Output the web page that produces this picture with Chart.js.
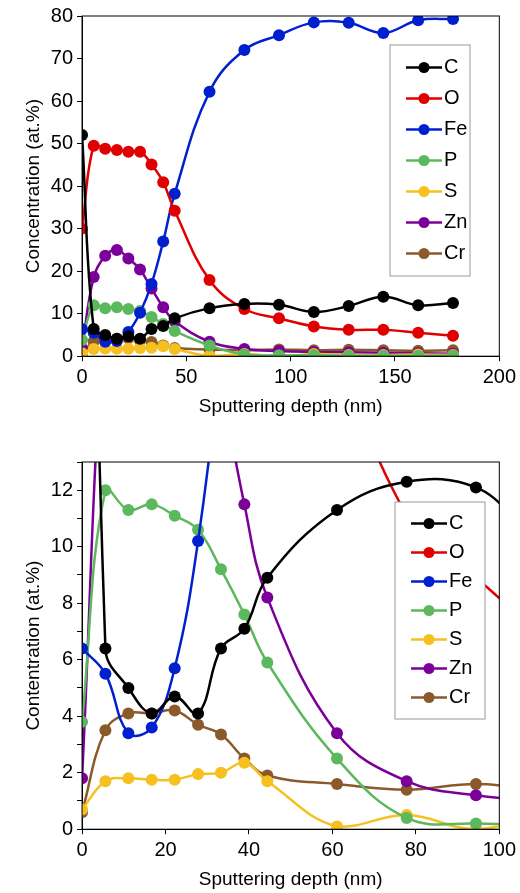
<!DOCTYPE html>
<html><head><meta charset="utf-8">
<script src="https://cdn.jsdelivr.net/npm/chart.js@4"></script>
<style>
body{margin:0;background:#fff;width:520px;height:893px;overflow:hidden}
.box{position:absolute;left:0;width:520px}
</style></head><body>
<div class="box" style="top:0;height:420px"><canvas id="top"></canvas></div>
<div class="box" style="top:440px;height:453px"><canvas id="bottom"></canvas></div>
<script>
const depth = [0, 5.6, 11.1, 16.7, 22.2, 27.8, 33.3, 38.9, 44.4, 61.1, 77.8, 94.4, 111.1, 127.8, 144.4, 161.1, 177.8];
const names = ["C", "O", "Fe", "P", "S", "Zn", "Cr"];
const colours = ["#000000", "#e00000", "#0020d0", "#5cb85c", "#f5c020", "#7b0099", "#8b5a2b"];
const C  = [52, 6.4, 5.0, 4.1, 4.7, 4.1, 6.4, 7.1, 8.9, 11.3, 12.3, 12.1, 10.4, 11.8, 14.0, 12.0, 12.5];
const O  = [30, 49.5, 48.8, 48.5, 48.1, 48.1, 45.1, 40.9, 34.2, 17.9, 11.1, 8.9, 7.0, 6.2, 6.2, 5.5, 4.8];
const Fe = [6.4, 5.5, 3.4, 3.6, 5.7, 10.2, 17.0, 27.0, 38.2, 62.2, 72.0, 75.5, 78.5, 78.4, 76.0, 79.0, 79.3];
const P  = [3.8, 12.0, 11.3, 11.5, 11.1, 10.6, 9.2, 7.6, 5.9, 2.5, 0.4, 0.2, 0.2, 0.1, 0.1, 0.1, 0.1];
const S  = [0.7, 1.7, 1.8, 1.75, 1.75, 1.95, 2.0, 2.35, 1.7, 0.1, 0.5, 0.0, 0.5, 0.3, 0.3, 0.4, 0.3];
const Zn = [1.8, 18.6, 23.6, 25.0, 23.0, 20.4, 15.9, 11.5, 8.2, 3.4, 1.7, 1.2, 1.0, 0.9, 0.8, 0.7, 0.6];
const Cr = [0.6, 3.5, 4.1, 4.1, 4.2, 3.7, 3.35, 2.5, 1.9, 1.6, 1.4, 1.6, 1.4, 1.5, 1.4, 1.3, 1.4];
const series = [C, O, Fe, P, S, Zn, Cr];

Chart.defaults.font.family = "Liberation Sans, Arial, sans-serif";
Chart.defaults.color = "#000";

function makeDatasets(radius) {
   return series.map((vals, i) => ({
      label: names[i],
      data: vals.map((v, j) => ({x: depth[j], y: v})),
      borderColor: colours[i],
      backgroundColor: colours[i],
      borderWidth: 2.5,
      pointRadius: radius,
      pointBorderWidth: 0,
      tension: 0.4
   }));
}

// box legend inside the plot, lines with dots like the original
function boxLegend(left, top, w, rowH) {
   return {
      id: "boxLegend",
      afterDraw(chart) {
         const ctx = chart.ctx;
         ctx.save();
         ctx.fillStyle = "#fff";
         ctx.fillRect(left, top, w, rowH * 7 + 14);
         ctx.strokeStyle = "#999";
         ctx.lineWidth = 1;
         ctx.strokeRect(left, top, w, rowH * 7 + 14);
         names.forEach((n, i) => {
            const y = top + 7 + rowH * (i + 0.5);
            ctx.strokeStyle = colours[i];
            ctx.lineWidth = 2.5;
            ctx.beginPath(); ctx.moveTo(left + 16, y); ctx.lineTo(left + 52, y); ctx.stroke();
            ctx.fillStyle = colours[i];
            ctx.beginPath(); ctx.arc(left + 34, y, 5.5, 0, Math.PI * 2); ctx.fill();
            ctx.fillStyle = "#000";
            ctx.font = "20px Liberation Sans, Arial";
            ctx.textBaseline = "middle";
            ctx.fillText(n, left + 54, y);
         });
         ctx.restore();
      }
   };
}

const frame = {
   id: "frame",
   afterDatasetsDraw(chart) {
      const a = chart.chartArea, ctx = chart.ctx;
      ctx.save();
      ctx.strokeStyle = "#000"; ctx.lineWidth = 1;
      ctx.strokeRect(a.left, a.top, a.right - a.left, a.bottom - a.top);
      ctx.restore();
   }
};

function axis(min, max, step, title, showEvery) {
   return {
      type: "linear", min: min, max: max,
      ticks: {stepSize: step, font: {size: 20}, padding: 4,
         callback: v => (showEvery && v % showEvery !== 0) ? "" : v},
      grid: {drawOnChartArea: false, color: "#000", tickLength: 5},
      border: {color: "#000"},
      title: {display: true, text: title, font: {size: 19}, padding: 2}
   };
}

new Chart("top", {
   type: "line",
   data: {datasets: makeDatasets(6)},
   options: {
      responsive: true, maintainAspectRatio: false, animation: false,
      layout: {padding: {top: 8, right: 15, left: 20}},
      plugins: {legend: {display: false}, tooltip: {enabled: false}},
      scales: {
         x: axis(0, 200, 50, "Sputtering depth (nm)"),
         y: axis(0, 80, 10, "Concentration (at.%)")
      }
   },
   plugins: [frame, boxLegend(390, 45, 80, 31)]
});

new Chart("bottom", {
   type: "line",
   data: {datasets: makeDatasets(6)},
   options: {
      responsive: true, maintainAspectRatio: false, animation: false,
      layout: {padding: {top: 22, right: 18, left: 20}},
      plugins: {legend: {display: false}, tooltip: {enabled: false}},
      scales: {
         x: axis(0, 100, 20, "Sputtering depth (nm)"),
         y: axis(0, 13, 1, "Contentration (at.%)", 2)
      }
   },
   plugins: [frame, boxLegend(395, 62, 90, 29)]
});
</script>
</body></html>
